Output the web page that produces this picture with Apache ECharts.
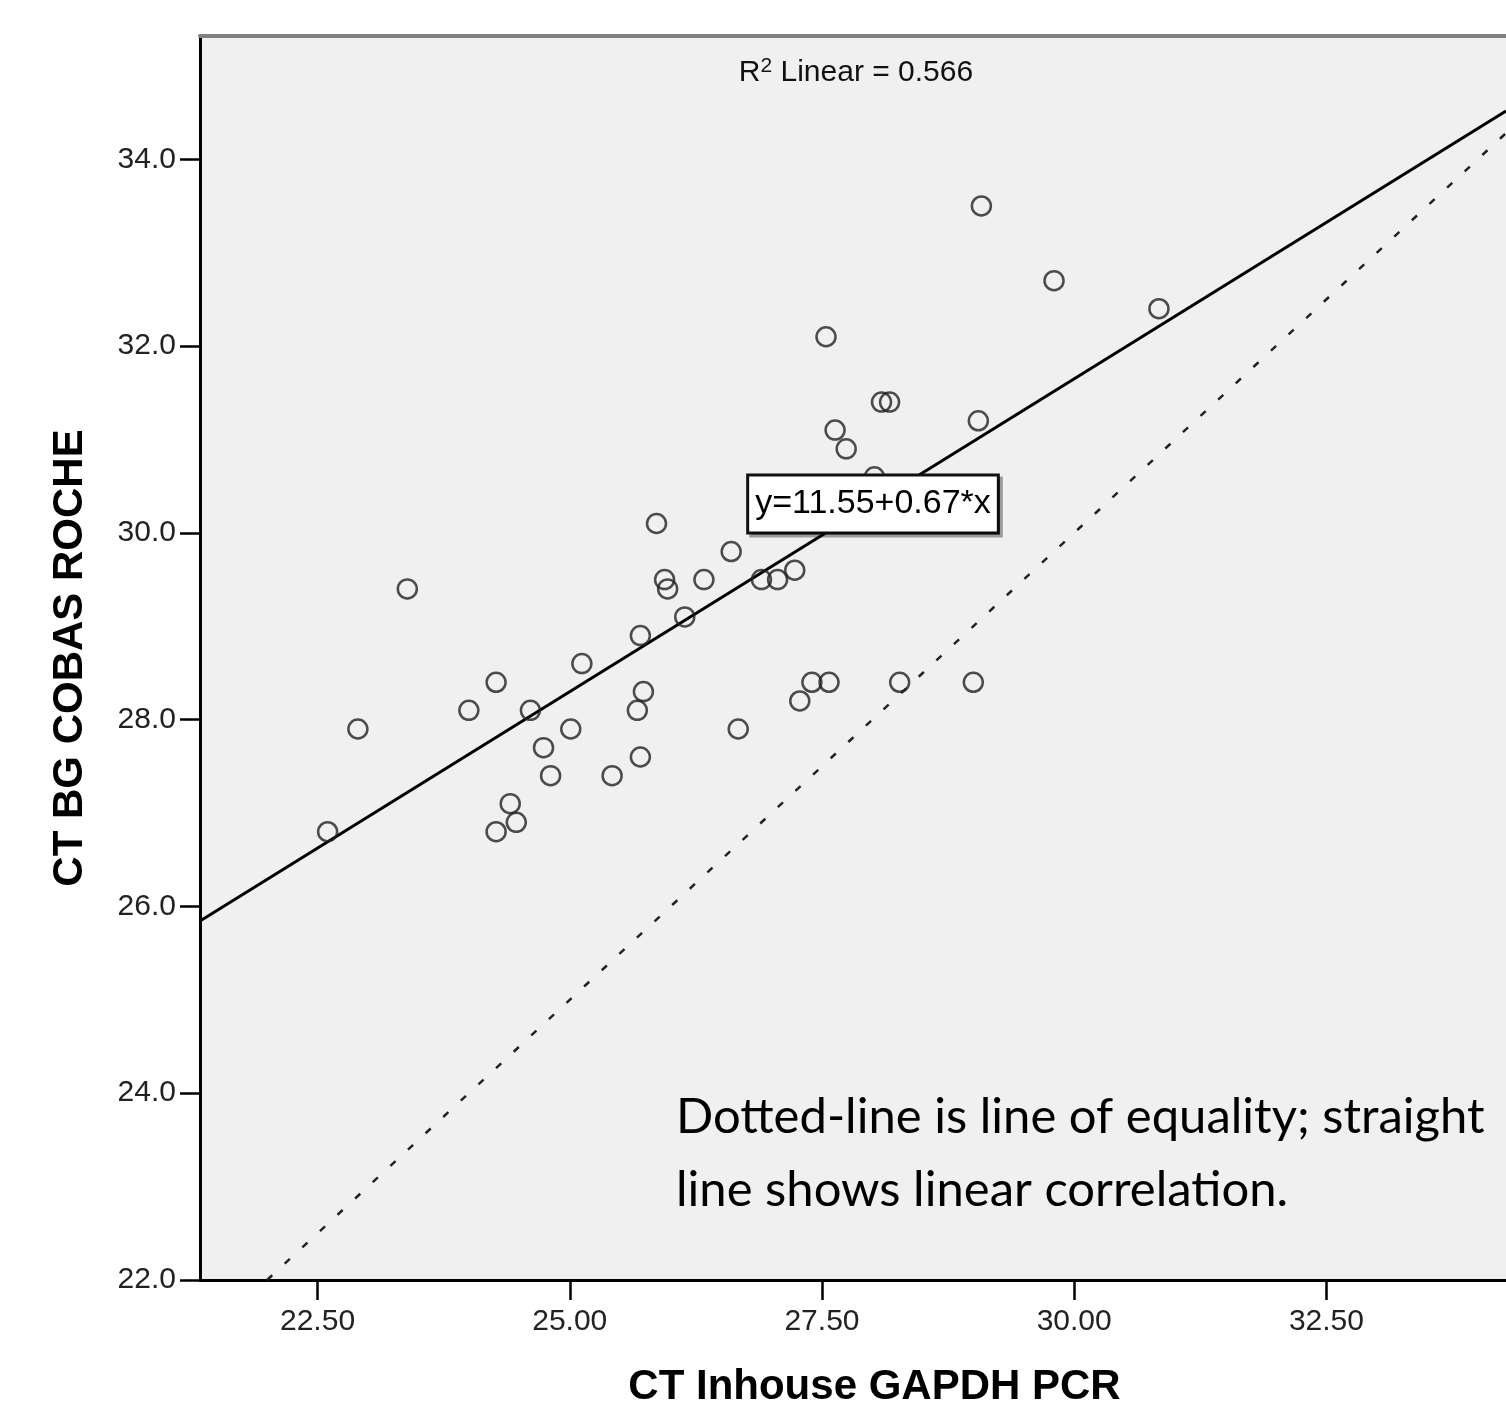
<!DOCTYPE html>
<html>
<head>
<meta charset="utf-8">
<script src="https://cdn.jsdelivr.net/npm/echarts@6/dist/echarts.min.js"></script>
<style>
html,body{margin:0;padding:0;background:#fff;}
#c{width:1506px;height:1407px;}
</style>
</head>
<body>
<div id="c"></div>
<script>
// ---- data ----
const inhouseCT = [22.60, 22.90, 23.39, 24.00, 24.27, 24.27, 24.41, 24.47, 24.61, 24.74,
                   24.81, 25.01, 25.12, 25.42, 25.67, 25.70, 25.73, 25.70, 25.86, 25.94,
                   25.97, 26.14, 26.33, 26.60, 26.67, 26.90, 27.06, 27.23, 27.28, 27.40,
                   27.57, 27.54, 27.63, 27.74, 28.02, 28.09, 28.17, 28.27, 29.00, 29.05,
                   29.08, 29.80, 30.84];
const cobasCT   = [26.80, 27.90, 29.40, 28.10, 28.40, 26.80, 27.10, 26.90, 28.10, 27.70,
                   27.40, 27.90, 28.60, 27.40, 28.10, 27.60, 28.30, 28.90, 30.10, 29.50,
                   29.40, 29.10, 29.50, 29.80, 27.90, 29.50, 29.50, 29.60, 28.20, 28.40,
                   28.40, 32.10, 31.10, 30.90, 30.60, 31.40, 31.40, 28.40, 28.40, 31.20,
                   33.50, 32.70, 32.40];
const xTickValues = [22.5, 25, 27.5, 30, 32.5];
const yTickValues = [22, 24, 26, 28, 30, 32, 34];
const fitIntercept = 11.55;
const fitSlope = 0.67;
const rSquared = '0.566';
const xRange = [21.335, 34.28];
const yRange = [22, 35.32];
const xTitle = 'CT Inhouse GAPDH PCR';
const yTitle = 'CT BG COBAS ROCHE';
const annotationLines = ['Dotted-line is line of equality; straight', 'line shows linear correlation.'];

// ---- build ----
const points = inhouseCT.map((x, i) => [x, cobasCT[i]]);
const fitLine = [xRange[0], xRange[1]].map(x => [x, fitIntercept + fitSlope * x]);
const equalityLine = [[yRange[0], yRange[0]], [xRange[1], xRange[1]]];

// fit annotation font size to the reference line width
const cv = document.createElement('canvas').getContext('2d');
cv.font = '100px Lato';
const annSize = Math.round(100 * 812 / cv.measureText(annotationLines[0]).width);

const AX = 'Liberation Sans, Arial, sans-serif';
const chart = echarts.init(document.getElementById('c'), null, {renderer: 'canvas'});
chart.setOption({
  animation: false,
  backgroundColor: '#ffffff',
  grid: {left: 200, right: 0, top: 36, bottom: 127, show: true, backgroundColor: '#f0f0f0', borderWidth: 0,
         containLabel: false, outerBoundsMode: 'none'},
  xAxis: [{
    type: 'value', min: xRange[0], max: xRange[1], position: 'bottom',
    axisLine: {show: true, onZero: false, lineStyle: {color: '#000', width: 3}},
    axisTick: {show: true, length: 20, inside: false, customValues: xTickValues, lineStyle: {color: '#000', width: 2.5}},
    axisLabel: {customValues: xTickValues, formatter: v => Number(v).toFixed(2), fontSize: 30, fontFamily: AX, color: '#222', margin: 27},
    splitLine: {show: false},
    name: xTitle, nameLocation: 'middle', nameGap: 86,
    nameTextStyle: {fontSize: 42, fontWeight: 'bold', fontFamily: AX, color: '#000', padding: [0, 0, 0, 43]}
  }, {
    type: 'value', min: xRange[0], max: xRange[1], position: 'top',
    axisLine: {show: true, onZero: false, lineStyle: {color: '#808080', width: 4}},
    axisTick: {show: false}, axisLabel: {show: false}, splitLine: {show: false}
  }],
  yAxis: {
    type: 'value', min: yRange[0], max: yRange[1],
    axisLine: {show: true, onZero: false, lineStyle: {color: '#000', width: 3}},
    axisTick: {show: true, length: 20, inside: false, customValues: yTickValues, lineStyle: {color: '#000', width: 2.5}},
    axisLabel: {customValues: yTickValues, formatter: v => Number(v).toFixed(1), fontSize: 30, fontFamily: AX, color: '#222', margin: 24, padding: [6, 0, 0, 0]},
    splitLine: {show: false},
    name: yTitle, nameLocation: 'middle', nameGap: 109, nameRotate: 90,
    nameTextStyle: {fontSize: 42, fontWeight: 'bold', fontFamily: AX, color: '#000'}
  },
  series: [{
    type: 'line', data: equalityLine, showSymbol: false, silent: true, z: 2,
    lineStyle: {color: '#222', width: 2.5, type: [7, 17]}
  }, {
    type: 'line', data: fitLine, showSymbol: false, silent: true, z: 2,
    lineStyle: {color: '#000', width: 3}
  }, {
    type: 'scatter', data: points, symbol: 'circle', symbolSize: 19, silent: true, z: 3,
    itemStyle: {color: 'rgba(0,0,0,0)', borderColor: '#222', borderWidth: 2.5}
  }],
  graphic: [{
    type: 'text', x: 856, y: 73, z: 10,
    style: {
      text: 'R{sup|2} Linear = ' + rSquared,
      align: 'center', verticalAlign: 'middle',
      font: '30px ' + AX, fill: '#111', lineHeight: 34,
      rich: {sup: {fontSize: 21, fontFamily: AX, verticalAlign: 'top', lineHeight: 20, fill: '#111'}}
    }
  }, {
    type: 'text', x: 873, y: 504, z: 10,
    style: {
      text: 'y=' + fitIntercept.toFixed(2) + '+' + fitSlope.toFixed(2) + '*x',
      align: 'center', verticalAlign: 'middle',
      font: '34px ' + AX, fill: '#000', lineHeight: 35,
      backgroundColor: '#ffffff', borderColor: '#111', borderWidth: 3,
      padding: [10, 6, 10, 6],
      shadowColor: 'rgba(0,0,0,0.35)', shadowOffsetX: 3, shadowOffsetY: 3, shadowBlur: 0
    }
  }, {
    type: 'text', x: 676, y: 1117, z: 10,
    style: {text: annotationLines[0], align: 'left', verticalAlign: 'middle', font: annSize + 'px Lato', fill: '#000'}
  }, {
    type: 'text', x: 676, y: 1190, z: 10,
    style: {text: annotationLines[1], align: 'left', verticalAlign: 'middle', font: annSize + 'px Lato', fill: '#000'}
  }]
});
</script>
</body>
</html>
